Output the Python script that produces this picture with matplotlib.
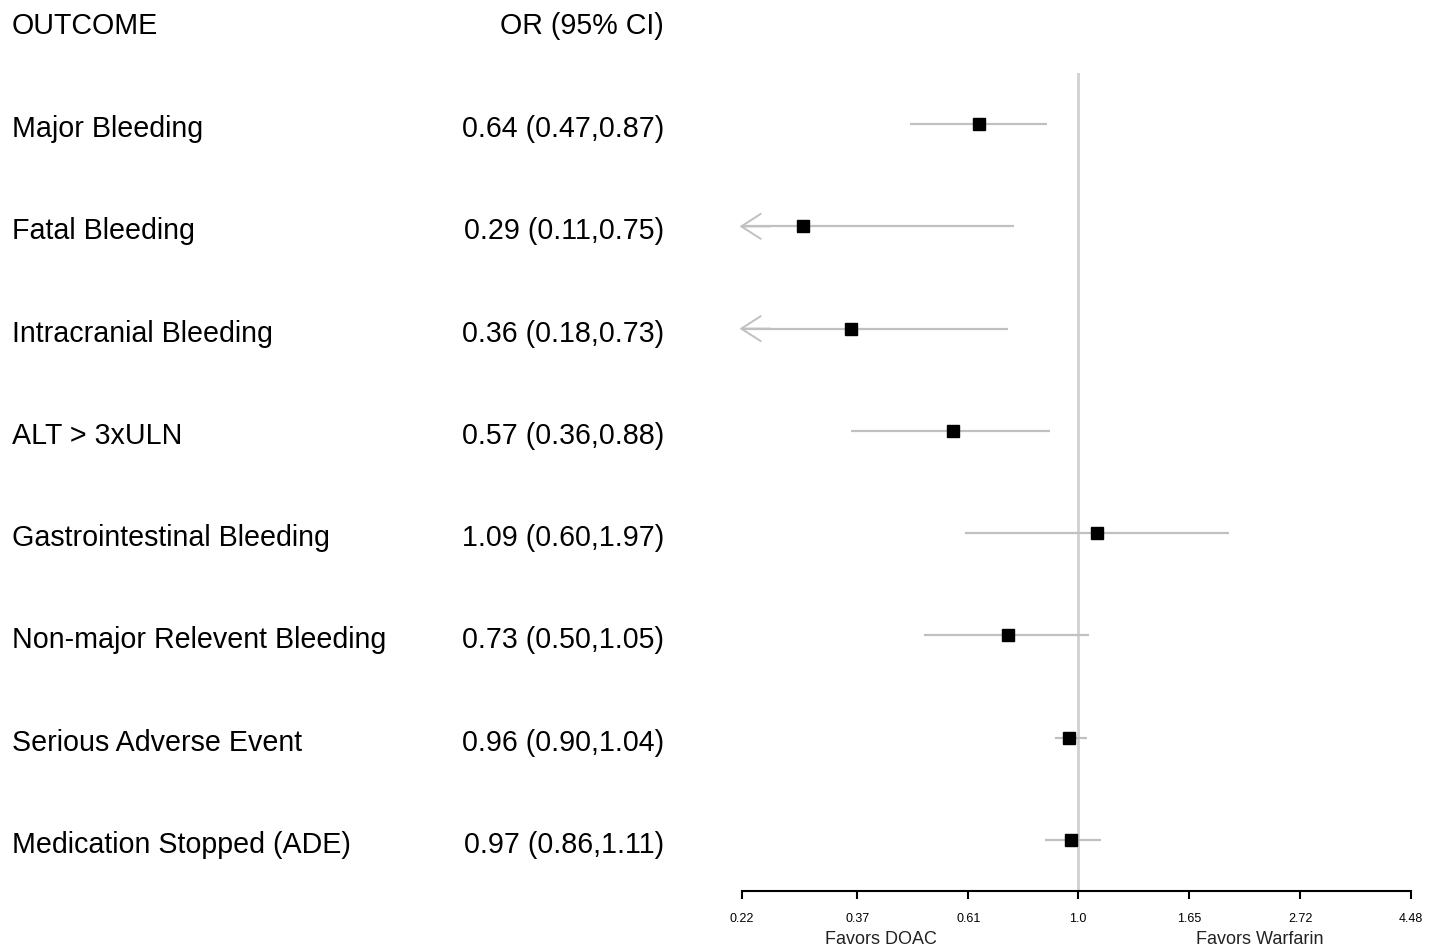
import numpy as np
import matplotlib
matplotlib.use('Agg')
from matplotlib import pyplot as plt
from matplotlib import transforms

plt.rcParams['font.family'] = ['Liberation Sans', 'DejaVu Sans']

outcomes = ['Major Bleeding', 'Fatal Bleeding', 'Intracranial Bleeding',
            'ALT > 3xULN', 'Gastrointestinal Bleeding',
            'Non-major Relevent Bleeding', 'Serious Adverse Event',
            'Medication Stopped (ADE)']
odds = [0.64, 0.29, 0.36, 0.57, 1.09, 0.73, 0.96, 0.97]
ci_lo = [0.47, 0.11, 0.18, 0.36, 0.60, 0.50, 0.90, 0.86]
ci_hi = [0.87, 0.75, 0.73, 0.88, 1.97, 1.05, 1.04, 1.11]
tick_vals = [0.22, 0.37, 0.61, 1.0, 1.65, 2.72, 4.48]
tick_labels = ['0.22', '0.37', '0.61', '1.0', '1.65', '2.72', '4.48']

xmin, xmax = np.exp(-1.5), np.exp(1.5)
W, H = 1440, 949

fig = plt.figure(figsize=(W / 100, H / 100), dpi=100)
ax = fig.add_axes([742 / W, 1 - 891 / H, (1411 - 742) / W, (891 - 73) / H])

ax.set_xscale('log')
ax.set_xlim(xmin, xmax)
ax.set_ylim(len(outcomes) - 0.5, -0.5)

ax.axvline(1.0, color='#d0d0d0', lw=2, zorder=1)

line_col = '#c0c0c0'
for i in range(len(outcomes)):
    lo = max(ci_lo[i], xmin)
    ax.plot([lo, ci_hi[i]], [i, i], color=line_col, lw=1.6, zorder=2,
            solid_capstyle='butt')
    # CI runs past the axis: draw an open arrow at the left end
    if ci_lo[i] < xmin:
        ax.annotate('', xy=(xmin * 0.975, i), xytext=(xmin * 1.12, i),
                    arrowprops=dict(arrowstyle='->,head_length=0.7,head_width=0.45',
                                    color=line_col, lw=1.4, mutation_scale=20,
                                    shrinkA=0, shrinkB=0),
                    annotation_clip=False, zorder=2)
    ax.plot(odds[i], i, marker='s', color='black', ms=9, zorder=3)

for s in ['top', 'left', 'right']:
    ax.spines[s].set_visible(False)
ax.spines['bottom'].set_linewidth(1.5)
ax.set_yticks([])
ax.set_xticks(tick_vals)
ax.set_xticklabels(tick_labels, fontsize=9)
ax.xaxis.set_minor_locator(matplotlib.ticker.NullLocator())
ax.tick_params(axis='x', direction='out', length=6, width=1.5, pad=10)

fig.text(881 / W, 1 - 939 / H, 'Favors DOAC', ha='center', va='center',
         fontsize=13, color='#222222')
fig.text(1260 / W, 1 - 939 / H, 'Favors Warfarin', ha='center', va='center',
         fontsize=13, color='#222222')

# left-hand table
trans = transforms.blended_transform_factory(fig.transFigure, ax.transData)
fs = 20.6
fig.text(12 / W, 1 - 26 / H, 'OUTCOME', ha='left', va='center', fontsize=fs)
fig.text(664 / W, 1 - 26 / H, 'OR (95% CI)', ha='right', va='center', fontsize=fs)
for i, name in enumerate(outcomes):
    label = '%.2f (%.2f,%.2f)' % (odds[i], ci_lo[i], ci_hi[i])
    ax.text(12 / W, i + 0.05, name, transform=trans, ha='left',
            va='center', fontsize=fs)
    ax.text(664 / W, i + 0.05, label, transform=trans, ha='right',
            va='center', fontsize=fs)

fig.savefig('out.png', dpi=100)
